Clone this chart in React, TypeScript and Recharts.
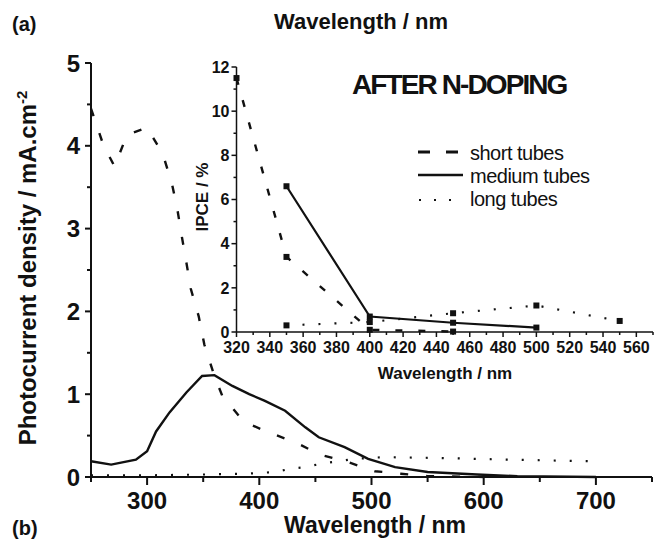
import React from "react";
import { LineChart, Line, XAxis, YAxis } from "recharts";

const FONT = "'Liberation Sans', Arial, Helvetica, sans-serif";
const INK = "#111";

// main chart: photocurrent density vs wavelength
const shortWl = [250, 261, 271, 282, 300, 314, 322, 327, 331, 335, 339, 346, 351, 360, 367, 386, 408, 432, 454, 479, 503, 526, 550, 600];
const shortJ = [4.45, 4.01, 3.75, 4.13, 4.22, 3.9, 3.55, 3.23, 2.9, 2.59, 2.27, 1.94, 1.6, 1.22, 0.98, 0.67, 0.54, 0.42, 0.27, 0.18, 0.07, 0.04, 0.01, 0];

const mediumWl = [250, 268, 290, 300, 308, 320, 335, 349, 360, 376, 391, 405, 423, 441, 453, 476, 497, 521, 550, 594, 630, 700];
const mediumJ = [0.19, 0.15, 0.21, 0.31, 0.55, 0.78, 1.02, 1.22, 1.23, 1.1, 1.0, 0.92, 0.8, 0.6, 0.48, 0.36, 0.22, 0.12, 0.06, 0.03, 0.01, 0];

const longWl = [250, 300, 350, 388, 414, 428, 441, 455, 470, 485, 512, 560, 620, 700];
const longJ = [0.02, 0.02, 0.03, 0.04, 0.06, 0.1, 0.12, 0.16, 0.19, 0.22, 0.24, 0.23, 0.21, 0.19];

const mainXMajor = [300, 400, 500, 600, 700];
const mainXMinor = [250, 350, 450, 550, 650, 750];
const mainYMajor = [0, 1, 2, 3, 4, 5];
const mainYMinor = [0.5, 1.5, 2.5, 3.5, 4.5];

// inset: IPCE vs wavelength
const ipceShortWl = [320, 350, 400, 450];
const ipceShort = [11.5, 3.4, 0.1, 0.02];
const ipceMediumWl = [350, 400, 450, 500];
const ipceMedium = [6.6, 0.7, 0.42, 0.2];
const ipceLongWl = [350, 400, 450, 500, 550];
const ipceLong = [0.3, 0.45, 0.85, 1.2, 0.5];

const insetXMajor = [320, 340, 360, 380, 400, 420, 440, 460, 480, 500, 520, 540, 560];
const insetXMinor = [330, 350, 370, 390, 410, 430, 450, 470, 490, 510, 530, 550, 570];
const insetYMajor = [0, 2, 4, 6, 8, 10, 12];
const insetYMinor = [1, 3, 5, 7, 9, 11];

const zip = (xs: number[], ys: number[]) => xs.map((wl, i) => ({ wl, v: ys[i] }));

type TickOpts = { side: "bottom" | "left"; majors: number[]; major: number; minor: number; gap: number; fontSize: number; sw: number };

function makeTick(o: TickOpts) {
  return (props: any) => {
    const { x, y, payload } = props;
    const v = payload.value;
    const isMajor = o.majors.includes(v);
    const len = isMajor ? o.major : o.minor;
    const textStyle = { fontFamily: FONT, fontWeight: 700, fontSize: o.fontSize, fill: INK };
    if (o.side === "bottom") {
      return (
        <g>
          <line x1={x} x2={x} y1={y} y2={y + len} stroke={INK} strokeWidth={o.sw} />
          {isMajor && (
            <text x={x} y={y + len + o.gap} dy="0.71em" textAnchor="middle" style={textStyle}>
              {v}
            </text>
          )}
        </g>
      );
    }
    return (
      <g>
        <line x1={x - len} x2={x} y1={y} y2={y} stroke={INK} strokeWidth={o.sw} />
        {isMajor && (
          <text x={x - len - o.gap} y={y} dy="0.36em" textAnchor="end" style={textStyle}>
            {v}
          </text>
        )}
      </g>
    );
  };
}

const SquareDot = (props: any) => {
  const { cx, cy, index } = props;
  if (cx == null || cy == null) return <g key={index} />;
  return <rect key={index} x={cx - 3} y={cy - 3} width={6} height={6} fill={INK} />;
};

export default function App() {
  const axisLine = { stroke: INK, strokeWidth: 2 };
  const insetAxisLine = { stroke: INK, strokeWidth: 1.5 };

  return (
    <div style={{ position: "absolute", left: 0, top: 0, width: 656, height: 539, background: "#fff" }}>
      <div style={{ position: "absolute", left: 0, top: 0 }}>
        <LineChart width={656} height={539} margin={{ top: 63, right: 4, left: 31, bottom: 22 }}>
          <XAxis
            type="number"
            dataKey="wl"
            domain={[250, 750]}
            ticks={[...mainXMinor, ...mainXMajor].sort((a, b) => a - b)}
            height={40}
            axisLine={axisLine}
            tickLine={false}
            tickSize={0}
            tickMargin={0}
            interval={0}
            tick={makeTick({ side: "bottom", majors: mainXMajor, major: 8, minor: 5, gap: 7, fontSize: 24, sw: 2 })}
          />
          <YAxis
            type="number"
            domain={[0, 5]}
            ticks={[...mainYMinor, ...mainYMajor].sort((a, b) => a - b)}
            width={60}
            axisLine={axisLine}
            tickLine={false}
            tickSize={0}
            tickMargin={0}
            interval={0}
            tick={makeTick({ side: "left", majors: mainYMajor, major: 6, minor: 4, gap: 5, fontSize: 24, sw: 2 })}
          />
          <Line data={zip(longWl, longJ)} dataKey="v" type="linear" stroke={INK} strokeWidth={2.2} strokeDasharray="2 14" dot={false} activeDot={false} isAnimationActive={false} />
          <Line data={zip(shortWl, shortJ)} dataKey="v" type="linear" stroke={INK} strokeWidth={2.4} strokeDasharray="8 18" dot={false} activeDot={false} isAnimationActive={false} />
          <Line data={zip(mediumWl, mediumJ)} dataKey="v" type="linear" stroke={INK} strokeWidth={2.4} dot={false} activeDot={false} isAnimationActive={false} />
        </LineChart>
      </div>

      <div style={{ position: "absolute", left: 180, top: 40 }}>
        <LineChart width={476} height={360} margin={{ top: 27, right: 3, left: 16.5, bottom: 38 }}>
          <XAxis
            type="number"
            dataKey="wl"
            domain={[320, 570]}
            ticks={[...insetXMinor, ...insetXMajor].sort((a, b) => a - b)}
            height={30}
            axisLine={insetAxisLine}
            tickLine={false}
            tickSize={0}
            tickMargin={0}
            interval={0}
            tick={makeTick({ side: "bottom", majors: insetXMajor, major: 5, minor: 3, gap: 5, fontSize: 16, sw: 1.5 })}
          />
          <YAxis
            type="number"
            domain={[0, 12]}
            ticks={[...insetYMinor, ...insetYMajor].sort((a, b) => a - b)}
            width={40}
            axisLine={insetAxisLine}
            tickLine={false}
            tickSize={0}
            tickMargin={0}
            interval={0}
            tick={makeTick({ side: "left", majors: insetYMajor, major: 5, minor: 3, gap: 2, fontSize: 16, sw: 1.5 })}
          />
          <Line data={zip(ipceLongWl, ipceLong)} dataKey="v" type="linear" stroke={INK} strokeWidth={2.2} strokeDasharray="2 14" dot={SquareDot} activeDot={false} isAnimationActive={false} />
          <Line data={zip(ipceShortWl, ipceShort)} dataKey="v" type="linear" stroke={INK} strokeWidth={2.4} strokeDasharray="7 16" dot={SquareDot} activeDot={false} isAnimationActive={false} />
          <Line data={zip(ipceMediumWl, ipceMedium)} dataKey="v" type="linear" stroke={INK} strokeWidth={2.2} dot={SquareDot} activeDot={false} isAnimationActive={false} />
        </LineChart>
      </div>

      {/* titles, axis labels and legend */}
      <svg width={656} height={539} style={{ position: "absolute", left: 0, top: 0, pointerEvents: "none" }}>
        <g fontFamily={FONT} fill={INK}>
          <text x={12} y={31} fontSize={20} fontWeight={700}>(a)</text>
          <text x={12} y={535} fontSize={20} fontWeight={700}>(b)</text>
          <text x={361} y={29} fontSize={22} fontWeight={700} textAnchor="middle">Wavelength / nm</text>
          <text x={375} y={533} fontSize={23} fontWeight={700} textAnchor="middle">Wavelength / nm</text>
          <text x={352} y={94} fontSize={28} fontWeight={700} letterSpacing={-1.9}>AFTER N-DOPING</text>
          <text transform="translate(36,268) rotate(-90)" fontSize={24} fontWeight={700} textAnchor="middle">
            Photocurrent density / mA.cm<tspan dy={-9} fontSize={15}>-2</tspan>
          </text>
          <text transform="translate(208,197) rotate(-90)" fontSize={17} fontWeight={700} textAnchor="middle">IPCE / %</text>
          <text x={445} y={379} fontSize={17} fontWeight={700} textAnchor="middle">Wavelength / nm</text>

          <line x1={418} x2={458} y1={152} y2={152} stroke={INK} strokeWidth={3} strokeDasharray="12 16" />
          <line x1={418} x2={463} y1={175} y2={175} stroke={INK} strokeWidth={2.4} />
          <line x1={419} x2={455} y1={200} y2={200} stroke={INK} strokeWidth={2.2} strokeDasharray="2 13" />
          <text x={470} y={160} fontSize={20} letterSpacing={-0.5}>short tubes</text>
          <text x={470} y={183} fontSize={20} letterSpacing={-0.5}>medium tubes</text>
          <text x={470} y={206} fontSize={20} letterSpacing={-0.5}>long tubes</text>
        </g>
      </svg>
    </div>
  );
}
